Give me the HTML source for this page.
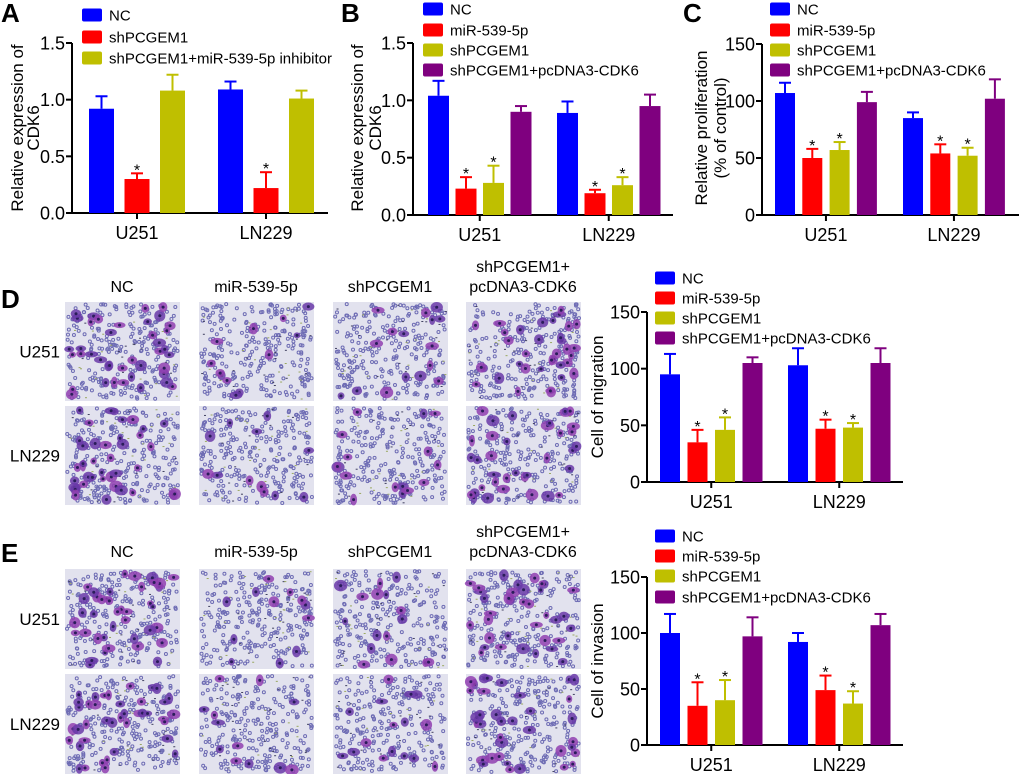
<!DOCTYPE html>
<html><head><meta charset="utf-8">
<style>
html,body{margin:0;padding:0;background:#fff;}
svg{display:block;font-family:"Liberation Sans",Arial,sans-serif;}
</style></head>
<body>
<svg id="fig" width="1020" height="774" viewBox="0 0 1020 774" xmlns="http://www.w3.org/2000/svg">
<g id="root"></g>
</svg>
<script>
// ---------- data ----------
const groups = ["U251", "LN229"];
const colors = ["#0000ff", "#ff0000", "#bfbf00", "#7f007f"];
const legendA = ["NC", "shPCGEM1", "shPCGEM1+miR-539-5p inhibitor"];
const legend4 = ["NC", "miR-539-5p", "shPCGEM1", "shPCGEM1+pcDNA3-CDK6"];
const ticksA = ["0.0", "0.5", "1.0", "1.5"];
const ticks150 = ["0", "50", "100", "150"];
const valuesA = [[0.92, 0.30, 1.08], [1.09, 0.22, 1.01]];
const errA = [[1.03, 0.35, 1.22], [1.16, 0.36, 1.08]];
const starsA = [[0, 1, 0], [0, 1, 0]];
const valuesB = [[1.04, 0.23, 0.28, 0.90], [0.89, 0.19, 0.26, 0.95]];
const errB = [[1.17, 0.33, 0.43, 0.95], [0.99, 0.22, 0.33, 1.05]];
const starsB = [[0, 1, 1, 0], [0, 1, 1, 0]];
const valuesC = [[107, 50, 57, 99], [85, 54, 52, 102]];
const errC = [[116, 58, 64, 108], [90, 62, 59, 119]];
const starsC = [[0, 1, 1, 0], [0, 1, 1, 0]];
const valuesD = [[95, 35, 46, 105], [103, 47, 48, 105]];
const errD = [[113, 46, 57, 110], [118, 55, 52, 118]];
const starsD = [[0, 1, 1, 0], [0, 1, 1, 0]];
const valuesE = [[100, 35, 40, 97], [92, 49, 37, 107]];
const errE = [[117, 56, 58, 114], [100, 62, 48, 117]];
const starsE = [[0, 1, 1, 0], [0, 1, 1, 0]];

const NS = "http://www.w3.org/2000/svg";
const root = document.getElementById("root");
function mk(tag, attrs, parent, text) {
  const e = document.createElementNS(NS, tag);
  for (const k in attrs) e.setAttribute(k, attrs[k]);
  if (text !== undefined) e.textContent = text;
  (parent || root).appendChild(e);
  return e;
}

function chart(cfg) {
  const g = mk("g", {});
  
  
  const y = v => cfg.y0 - (v / cfg.max) * (cfg.y0 - cfg.yTop);
  const ax = mk("line", {x1: cfg.ax, y1: cfg.yTop, x2: cfg.ax, y2: cfg.y0 + 1, stroke: "#000", "stroke-width": 2}, g);
  
  
  const xa = mk("line", {x1: cfg.ax - 1, y1: cfg.y0, x2: cfg.axEnd, y2: cfg.y0, stroke: "#000", "stroke-width": 2}, g);
  
  
  cfg.ticks.forEach((t, i) => {
    const v = cfg.max * i / (cfg.ticks.length - 1);
    mk("line", {x1: cfg.ax - 6, y1: y(v), x2: cfg.ax, y2: y(v), stroke: "#000", "stroke-width": 2}, g);
    const tl = mk("text", {x: cfg.ax - 7, y: y(v) + 6.5, "text-anchor": "end", "font-size": 18}, g, t);
    
    
  });
  const tt = mk("text", {transform: `translate(${cfg.titleX},${cfg.titleY}) rotate(-90)`, "text-anchor": "middle", "font-size": 17}, g);
  
  
  cfg.title.forEach((line, i) => mk("tspan", {x: 0, dy: i === 0 ? 0 : cfg.titleDy}, tt, line));
  cfg.values.forEach((row, gi) => {
    row.forEach((v, si) => {
      const x = cfg.barX[gi] + si * cfg.step;
      const w = cfg.barW;
      const top = y(v);
      const eT = y(cfg.err[gi][si]);
      const c = colors[si];
      const el = mk("line", {x1: x + w / 2, y1: top, x2: x + w / 2, y2: eT, stroke: c, "stroke-width": 2}, g);
      
      
      mk("line", {x1: x + w / 2 - 6, y1: eT, x2: x + w / 2 + 6, y2: eT, stroke: c, "stroke-width": 2}, g);
      const b = mk("rect", {x: x, y: top, width: w, height: cfg.y0 - top, fill: c}, g);
      
      
      if (cfg.stars[gi][si]) {
        const s = mk("text", {x: x + w / 2, y: eT + 2, "text-anchor": "middle", "font-size": 16}, g, "*");
        
        
      }
    });
    const n = row.length;
    const cx = cfg.barX[gi] + ((n - 1) * cfg.step + cfg.barW) / 2;
    mk("line", {x1: cx, y1: cfg.y0, x2: cx, y2: cfg.y0 + 6, stroke: "#000", "stroke-width": 2}, g);
    const gl = mk("text", {x: cx, y: cfg.y0 + 26, "text-anchor": "middle", "font-size": 18}, g, groups[gi]);
    
    
  });
  cfg.legend.forEach((l, i) => {
    const ly = cfg.legY[i];
    const sw = mk("rect", {x: cfg.legX, y: ly - 6.5, width: 20, height: 13, fill: colors[i], rx: 2}, g);
    
    
    const lt = mk("text", {x: cfg.legX + 27, y: ly + 5.5, "font-size": 15}, g, l);
    
    
  });
}

function letter(t, x, y) {
  const e = mk("text", {x: x, y: y, "font-size": 26, "font-weight": "bold"}, root, t);
  
  
}
letter("A", 1, 22); letter("B", 341, 22); letter("C", 683, 22); letter("D", 1, 308); letter("E", 1, 562);

chart({name: "panel-a-chart", ax: 72, axEnd: 328, yTop: 43, y0: 213, max: 1.5, ticks: ticksA,
  title: ["Relative expression of", "CDK6"], titleX: 23, titleDy: 16, titleY: 128,
  values: valuesA, err: errA, stars: starsA, barX: [89, 218], barW: 25, step: 35.5,
  legend: legendA, legX: 82, legY: [15, 37, 58]});
chart({name: "panel-b-chart", ax: 413, axEnd: 673, yTop: 43, y0: 215, max: 1.5, ticks: ticksA,
  title: ["Relative expression of", "CDK6"], titleX: 363, titleDy: 18, titleY: 128,
  values: valuesB, err: errB, stars: starsB, barX: [428, 557], barW: 21, step: 27.5,
  legend: legend4, legX: 423, legY: [9, 30, 50, 70]});
chart({name: "panel-c-chart", ax: 762, axEnd: 1019, yTop: 44, y0: 215, max: 150, ticks: ticks150,
  title: ["Relative proliferation", "(% of control)"], titleX: 707, titleDy: 19, titleY: 128,
  values: valuesC, err: errC, stars: starsC, barX: [775, 903], barW: 20, step: 27.3,
  legend: legend4, legX: 770, legY: [9, 30, 50, 70]});
chart({name: "panel-d-chart", ax: 647, axEnd: 903, yTop: 312, y0: 482, max: 150, ticks: ticks150,
  title: ["Cell of migration"], titleX: 603, titleDy: 0, titleY: 397,
  values: valuesD, err: errD, stars: starsD, barX: [660, 788], barW: 20, step: 27.5,
  legend: legend4, legX: 655, legY: [278, 298, 318, 338]});
chart({name: "panel-e-chart", ax: 647, axEnd: 903, yTop: 577, y0: 745, max: 150, ticks: ticks150,
  title: ["Cell of invasion"], titleX: 603, titleDy: 0, titleY: 661,
  values: valuesE, err: errE, stars: starsE, barX: [660, 788], barW: 20, step: 27.5,
  legend: legend4, legX: 655, legY: [536, 556, 576, 597]});

// ---------- microscopy images ----------
let seed = 12345;
function rnd() { seed = (seed * 1103515245 + 12345) & 0x7fffffff; return seed / 0x7fffffff; }
const colX = [65, 199, 333, 466];
const heads = [["NC"], ["miR-539-5p"], ["shPCGEM1"], ["shPCGEM1+", "pcDNA3-CDK6"]];
const density = [40, 12, 16, 36];
function micro(panel, rowsY, headY, h) {
  heads.forEach((hd, ci) => {
    const cx = colX[ci] + 57;
    hd.forEach((line, li) => {
      const t = mk("text", {x: cx, y: hd.length === 1 ? headY : headY - 20 + li * 20, "text-anchor": "middle", "font-size": 16}, root, line);
      
      
    });
  });
  rowsY.forEach((ry, ri) => {
    const rl = mk("text", {x: 60, y: ry + h / 2 + 6, "text-anchor": "end", "font-size": 17}, root, groups[ri]);
    
    
    colX.forEach((x, ci) => {
      const g = mk("g", {});
      
      
      mk("rect", {x: x, y: ry, width: 115, height: h, fill: "#e2e2ee"}, g);
      for (let k = 0; k < 260; k++) {
        mk("circle", {cx: x + 2 + rnd() * 111, cy: ry + 2 + rnd() * (h - 4), r: 1.5, fill: "none", stroke: "#6e6cb4", "stroke-width": 1}, g);
      }
      for (let k = 0; k < 40; k++) {
        mk("rect", {x: x + 2 + rnd() * 110, y: ry + 2 + rnd() * (h - 4), width: 2, height: 1, fill: rnd() > 0.5 ? "#9aa860" : "#404060"}, g);
      }
      for (let k = 0; k < density[ci]; k++) {
        const px = x + 4 + rnd() * 107, py = ry + 4 + rnd() * (h - 8);
        mk("ellipse", {cx: px, cy: py, rx: 3 + rnd() * 4, ry: 3 + rnd() * 3, fill: rnd() > 0.5 ? "#6a3aa8" : "#9040b0", opacity: 0.85}, g);
        mk("circle", {cx: px, cy: py, r: 1.5, fill: "#2a1d5a"}, g);
      }
    });
  });
}
micro("migration", [302, 406], 292, 99);
micro("invasion", [569, 674], 557, 100);
</script>
</body></html>
